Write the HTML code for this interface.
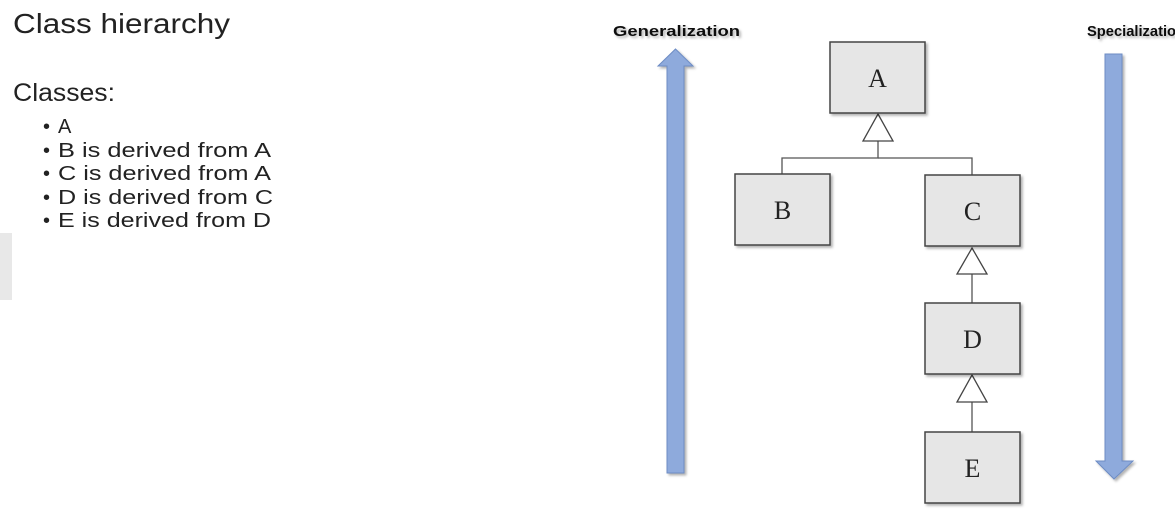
<!DOCTYPE html>
<html><head><style>
body{margin:0;width:1175px;height:525px;background:#fff;overflow:hidden;position:relative}
.g{position:absolute;left:0;top:233px;width:12px;height:67px;background:#e8e8e8}
</style></head><body>
<div class="g"></div>
<svg width="1175" height="525" style="position:absolute;left:0;top:0">
<defs><filter id="s" x="-10%" y="-10%" width="130%" height="130%"><feDropShadow dx="2" dy="2" stdDeviation="1.2" flood-color="#000" flood-opacity="0.3"/></filter></defs>
<g font-family="Liberation Sans, sans-serif" fill="#222">
<text x="13" y="33" font-size="28" textLength="217" lengthAdjust="spacingAndGlyphs">Class hierarchy</text>
<text x="13" y="101" font-size="25" textLength="102" lengthAdjust="spacingAndGlyphs">Classes:</text>
<g font-size="20">
<text x="43" y="133">•</text><text x="58" y="133">A</text>
<text x="43" y="157">•</text><text x="58" y="157" textLength="213" lengthAdjust="spacingAndGlyphs">B is derived from A</text>
<text x="43" y="180">•</text><text x="58" y="180" textLength="213" lengthAdjust="spacingAndGlyphs">C is derived from A</text>
<text x="43" y="204">•</text><text x="58" y="204" textLength="215" lengthAdjust="spacingAndGlyphs">D is derived from C</text>
<text x="43" y="227">•</text><text x="58" y="227" textLength="213" lengthAdjust="spacingAndGlyphs">E is derived from D</text>
</g>
</g>
<g font-family="Liberation Sans, sans-serif" font-weight="bold" font-size="15" fill="#111" filter="url(#s)">
<text x="613" y="36" textLength="127" lengthAdjust="spacingAndGlyphs">Generalization</text>
<text x="1087" y="36" textLength="98" lengthAdjust="spacingAndGlyphs">Specialization</text>
</g>
<g fill="#8eaadc" stroke="#6d8cc4" stroke-width="1" filter="url(#s)">
<polygon points="675.5,49 693,66 684,66 684,473 667,473 667,66 658,66"/>
<polygon points="1105,54 1122,54 1122,461 1133,461 1114,479 1096,461 1105,461"/>
</g>
<g stroke="#555" stroke-width="1.3" fill="none">
<polyline points="878,141 878,158 782,158 782,174"/>
<polyline points="878,158 972,158 972,175"/>
<line x1="972" y1="274" x2="972" y2="303"/>
<line x1="972" y1="402" x2="972" y2="432"/>
</g>
<g fill="#fff" stroke="#444" stroke-width="1.3">
<polygon points="878,114 893,141 863,141"/>
<polygon points="972,248 987,274 957,274"/>
<polygon points="972,375 987,402 957,402"/>
</g>
<g fill="#e6e6e6" stroke="#444" stroke-width="1.5" filter="url(#s)">
<rect x="830" y="42" width="95" height="71"/>
<rect x="735" y="174" width="95" height="71"/>
<rect x="925" y="175" width="95" height="71"/>
<rect x="925" y="303" width="95" height="71"/>
<rect x="925" y="432" width="95" height="71"/>
</g>
<g font-family="Liberation Serif, serif" font-size="26" fill="#222" text-anchor="middle">
<text x="877.5" y="87">A</text>
<text x="782.5" y="219">B</text>
<text x="972.5" y="220">C</text>
<text x="972.5" y="348">D</text>
<text x="972.5" y="477">E</text>
</g>
</svg>
</body></html>
